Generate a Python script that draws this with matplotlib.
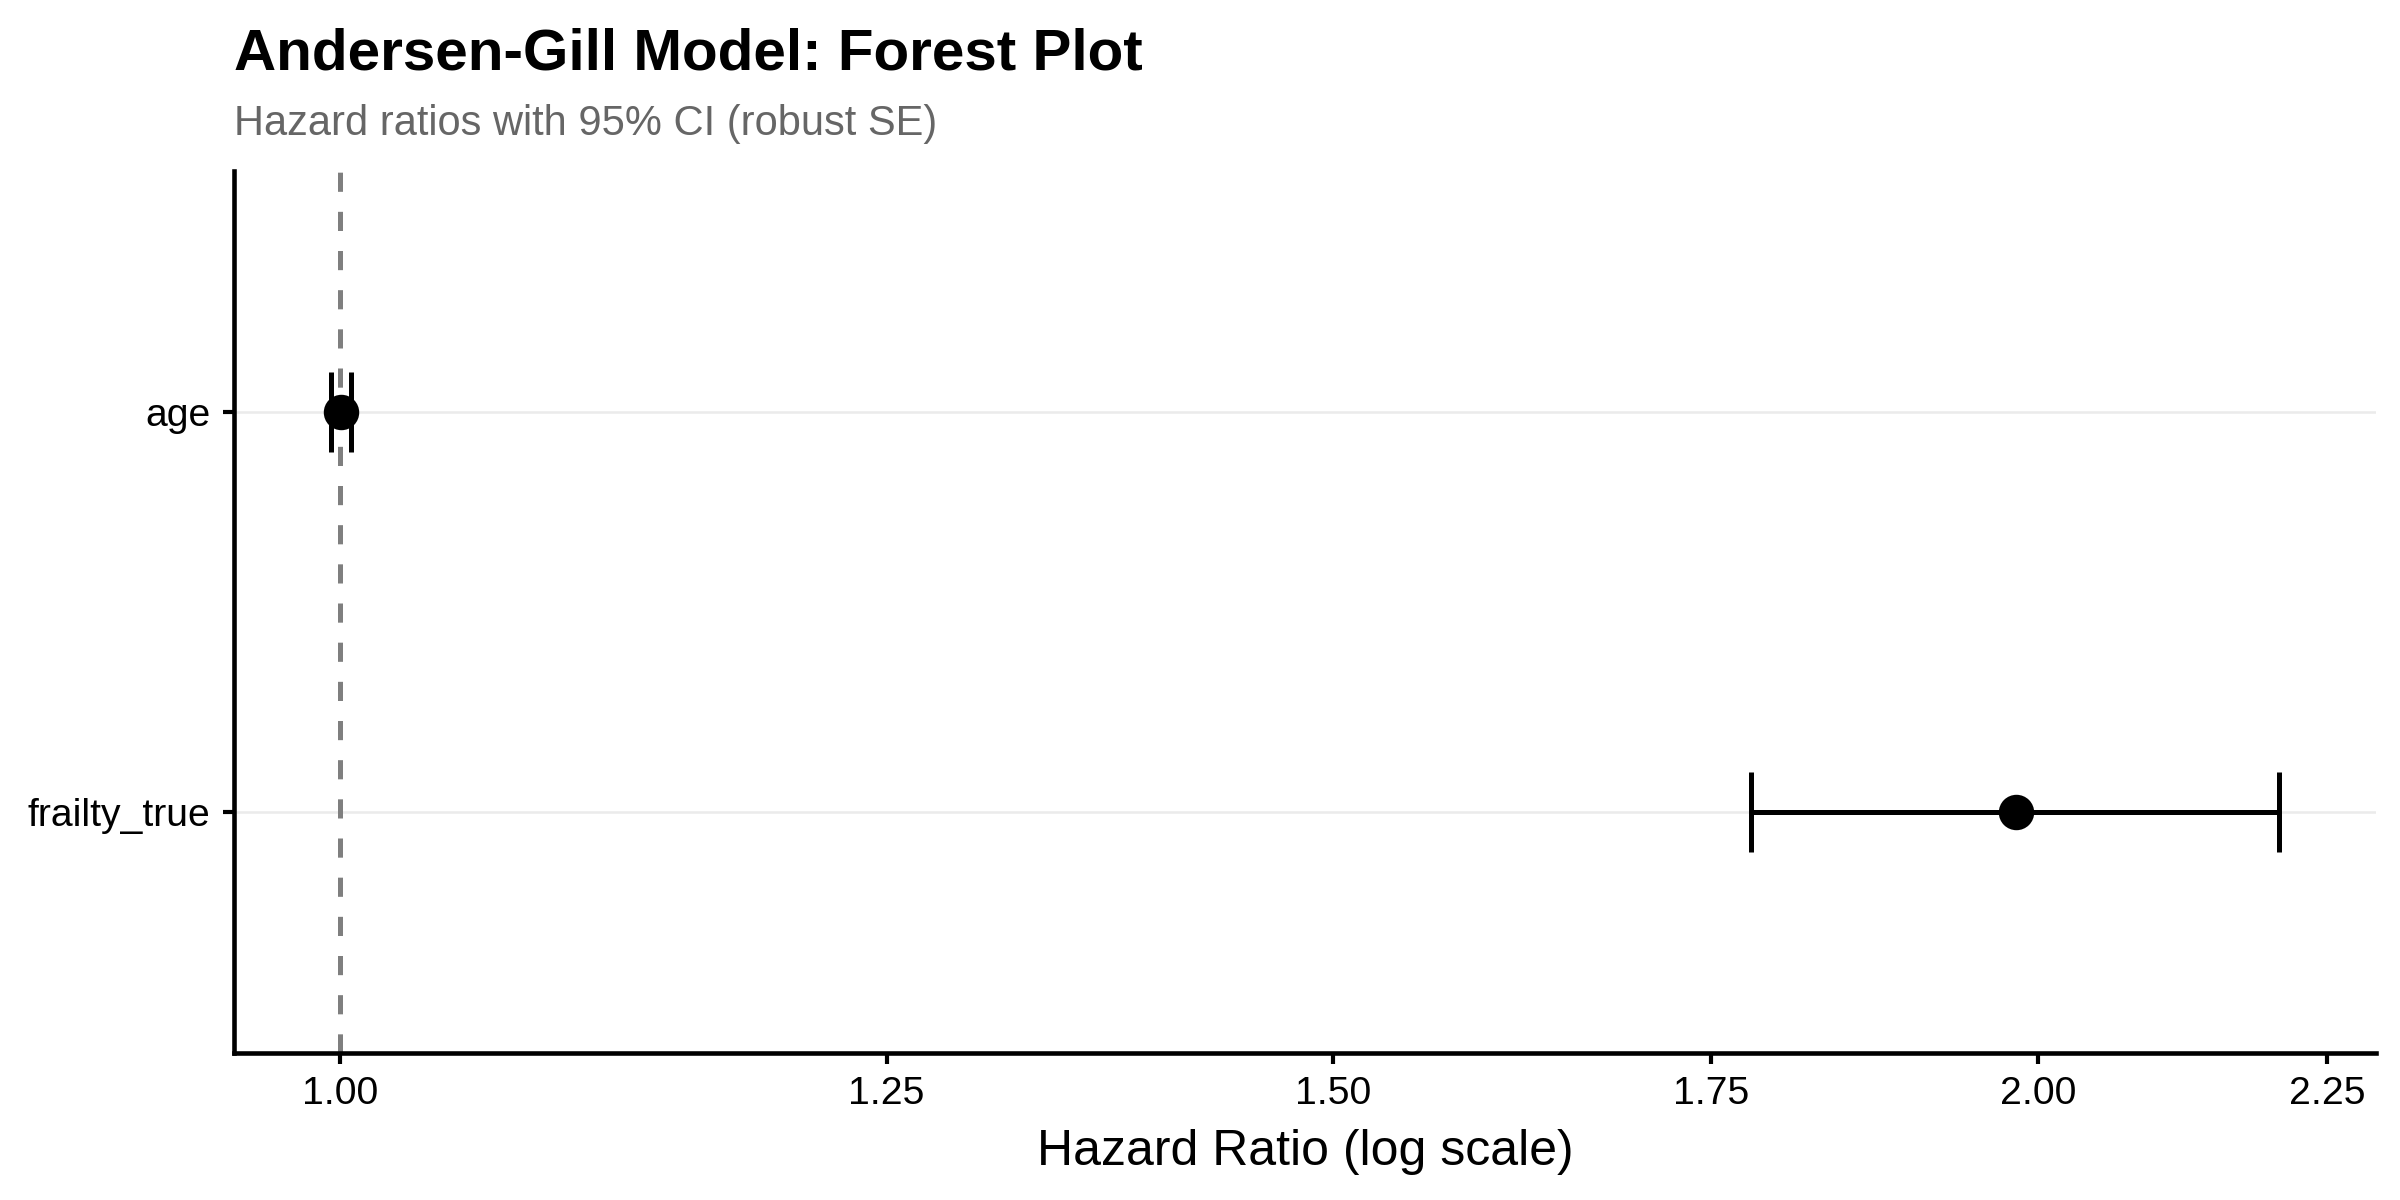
import numpy as np
import matplotlib
matplotlib.use("Agg")
import matplotlib.pyplot as plt
from matplotlib.ticker import FixedLocator, NullLocator, FormatStrFormatter

plt.rcParams['font.family'] = ['Liberation Sans', 'DejaVu Sans']
plt.rcParams['lines.scale_dashes'] = False

# hazard ratios with 95% CI (robust SE)
terms = ["age", "frailty_true"]
hr = [1.0005, 1.982]
ci_lower = [0.9966, 1.779]
ci_upper = [1.0048, 2.206]
x_ticks = [1.00, 1.25, 1.50, 1.75, 2.00, 2.25]

hr = np.array(hr)
lo = np.array(ci_lower)
hi = np.array(ci_upper)
ypos = np.arange(len(terms))

fig = plt.figure(figsize=(8, 4), dpi=300)
ax = fig.add_axes([0.0975, 0.1225, 0.8925, 0.735])

# grid lines at each term
for y in ypos:
    ax.axhline(y, color="#EBEBEB", lw=0.6, zorder=0)

ax.axvline(1.0, color="#7F7F7F", lw=1.2, linestyle=(0, (4.6, 4.8)), zorder=1)

ax.errorbar(hr, ypos, xerr=[hr - lo, hi - hr], fmt="none", ecolor="black",
            elinewidth=1.2, capsize=9.6, capthick=1.2, zorder=2)
ax.plot(hr, ypos, "o", color="black", markersize=7.5, zorder=3)

ax.set_xscale("log")
llo, lhi = np.log(lo.min()), np.log(hi.max())
pad = 0.05 * (lhi - llo)
ax.set_xlim(np.exp(llo - pad), np.exp(lhi + pad))
ax.xaxis.set_major_locator(FixedLocator(x_ticks))
ax.xaxis.set_minor_locator(NullLocator())
ax.xaxis.set_major_formatter(FormatStrFormatter("%.2f"))

ax.set_yticks(ypos)
ax.set_yticklabels(terms)
ax.set_ylim(len(terms) - 0.4, -0.6)

for s in ["top", "right"]:
    ax.spines[s].set_visible(False)
for s in ["left", "bottom"]:
    ax.spines[s].set_linewidth(1.1)
ax.tick_params(axis="both", length=2.6, width=1.0, labelsize=9.4,
               labelcolor="black", pad=3)

ax.set_xlabel("Hazard Ratio (log scale)", fontsize=12, labelpad=4)

fig.text(0.0975, 0.9425, "Andersen-Gill Model: Forest Plot", fontsize=14,
         fontweight="bold", va="baseline", ha="left")
fig.text(0.0975, 0.8875, "Hazard ratios with 95% CI (robust SE)", fontsize=10,
         color="#666666", va="baseline", ha="left")

fig.savefig("out.png", dpi=300)
